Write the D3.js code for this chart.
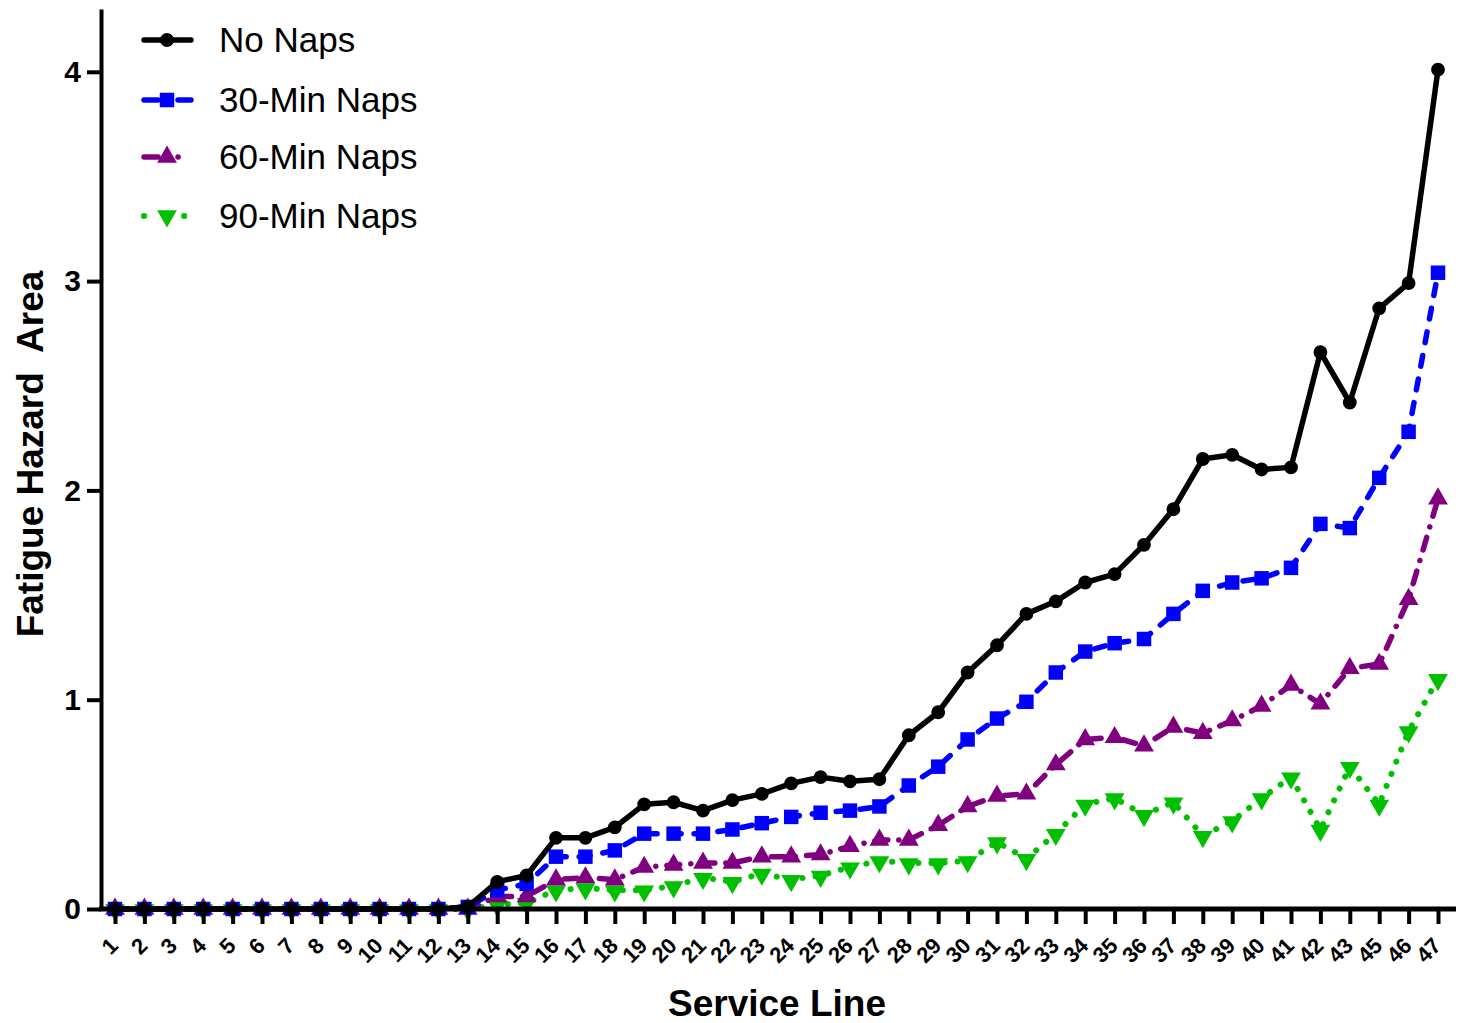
<!DOCTYPE html>
<html>
<head>
<meta charset="utf-8">
<script src="https://cdn.jsdelivr.net/npm/d3@7"></script>
<style>
  body { margin: 0; background: #fff; }
  svg { display: block; font-family: "Liberation Sans", Arial, sans-serif; }
</style>
</head>
<body>
<div id="chart"></div>
<script>
// categories (service line 44 is absent in the source)
const service_lines = ["1","2","3","4","5","6","7","8","9","10","11","12","13","14","15","16","17","18","19","20",
  "21","22","23","24","25","26","27","28","29","30","31","32","33","34","35","36","37","38","39","40",
  "41","42","43","45","46","47"]

const no_naps = [0,0,0,0,0,0,0,0,0,0,0,0,0.01,0.13,0.16,0.34,0.34,0.39,0.50,0.51,
  0.47,0.52,0.55,0.60,0.63,0.61,0.62,0.83,0.94,1.13,1.26,1.41,1.47,1.56,1.60,1.74,1.91,2.15,2.17,2.10,
  2.11,2.66,2.42,2.87,2.99,4.01]
const naps_30 = [0,0,0,0,0,0,0,0,0,0,0,0,0.01,0.09,0.12,0.25,0.25,0.28,0.36,0.36,
  0.36,0.38,0.41,0.44,0.46,0.47,0.49,0.59,0.68,0.81,0.91,0.99,1.13,1.23,1.27,1.29,1.41,1.52,1.56,1.58,
  1.63,1.84,1.82,2.06,2.28,3.04]
const naps_60 = [0,0,0,0,0,0,0,0,0,0,0,0,0,0.06,0.06,0.14,0.15,0.14,0.20,0.21,
  0.22,0.22,0.25,0.25,0.26,0.30,0.33,0.33,0.40,0.49,0.54,0.55,0.69,0.81,0.82,0.78,0.87,0.84,0.90,0.97,
  1.07,0.98,1.15,1.17,1.48,1.96]
const naps_90 = [0,0,0,0,0,0,0,0,0,0,0,0,0,0.02,0.03,0.09,0.10,0.09,0.09,0.11,
  0.15,0.13,0.17,0.14,0.16,0.20,0.23,0.22,0.22,0.23,0.32,0.24,0.36,0.50,0.53,0.45,0.51,0.35,0.42,0.53,
  0.63,0.38,0.68,0.50,0.85,1.10]

const y_ticks = [0, 1, 2, 3, 4]

const series = [
  {name: "No Naps", values: no_naps, color: "#000000", dash: null, marker: "circle"},
  {name: "30-Min Naps", values: naps_30, color: "#0000ff", dash: "11,13", marker: "square"},
  {name: "60-Min Naps", values: naps_60, color: "#800080", dash: "13,11,0.1,11", marker: "triangle"},
  {name: "90-Min Naps", values: naps_90, color: "#00c000", dash: "0.1,13", marker: "triangleDown"}
]

const width = 1466, height = 1023
const svg = d3.select("#chart").append("svg")
  .attr("width", width)
  .attr("height", height)

const x = d3.scalePoint()
  .domain(service_lines)
  .range([115, 1438])
const y = d3.scaleLinear()
  .domain([0, 4.3])
  .range([909, 9])

function symbol_for(m) {
  if (m === "circle") return d3.symbol().type(d3.symbolCircle).size(150)
  if (m === "square") return d3.symbol().type(d3.symbolSquare).size(210)
  return d3.symbol().type(d3.symbolTriangle).size(170)
}

// lines, drawn back to front
for (let i = series.length - 1; i >= 0; i--) {
  const s = series[i]
  const pts = service_lines.map((c, k) => ({c: c, v: s.values[k]}))
  const path = svg.append("path")
    .datum(pts)
    .attr("fill", "none")
    .attr("stroke", s.color)
    .attr("stroke-width", i === 3 ? 6 : 5.5)
    .attr("stroke-linecap", "round")
    .attr("stroke-linejoin", "round")
    .attr("d", d3.line().x(d => x(d.c)).y(d => y(d.v)))
  if (s.dash) path.attr("stroke-dasharray", s.dash)

  svg.selectAll(".mk" + i)
    .data(pts)
    .enter()
    .append("path")
    .attr("class", "mk" + i)
    .attr("fill", s.color)
    .attr("d", symbol_for(s.marker))
    .attr("transform", d => "translate(" + x(d.c) + "," + (y(d.v) + (s.marker === "triangleDown" ? 1 : 0)) + ")" +
      (s.marker === "triangleDown" ? " rotate(180)" : ""))
}

// y axis
const yAxis = svg.append("g")
  .attr("transform", "translate(101,0)")
  .call(d3.axisLeft(y)
    .tickValues(y_ticks)
    .tickSizeInner(14)
    .tickSizeOuter(0)
    .tickPadding(6)
    .tickFormat(d3.format("d")))
yAxis.select(".domain").attr("stroke", "#000").attr("stroke-width", 4)
yAxis.selectAll(".tick line").attr("stroke", "#000").attr("stroke-width", 4)
yAxis.selectAll(".tick text")
  .attr("fill", "#000")
  .style("font-size", "30px")
  .style("font-weight", "bold")

// x axis
const xAxis = svg.append("g")
  .attr("transform", "translate(0,909)")
  .call(d3.axisBottom(x)
    .tickSizeInner(15)
    .tickSizeOuter(0))
xAxis.select(".domain").attr("stroke", "#000").attr("stroke-width", 5)
  .attr("d", "M99,0H1456")
xAxis.selectAll(".tick line").attr("stroke", "#000").attr("stroke-width", 4)
xAxis.selectAll(".tick text")
  .attr("fill", "#000")
  .attr("text-anchor", "end")
  .attr("dy", null)
  .attr("y", 0)
  .attr("transform", "translate(4,38) rotate(-45)")
  .style("font-size", "22px")
  .style("font-weight", "bold")

// axis titles
svg.append("text")
  .attr("x", 777)
  .attr("y", 1016)
  .attr("text-anchor", "middle")
  .style("font-size", "37px")
  .style("font-weight", "bold")
  .text("Service Line")

svg.append("text")
  .attr("transform", "translate(43,454) rotate(-90)")
  .attr("text-anchor", "middle")
  .style("font-size", "37px")
  .style("font-weight", "bold")
  .style("white-space", "pre")
  .attr("xml:space", "preserve")
  .text("Fatigue Hazard  Area")

// legend
const legend_y = [40, 100, 157, 216]
series.forEach((s, i) => {
  const g = svg.append("g").attr("transform", "translate(0," + legend_y[i] + ")")
  const ln = g.append("line")
    .attr("x1", 144).attr("x2", 191)
    .attr("stroke", s.color)
    .attr("stroke-width", i === 3 ? 6 : 5.5)
    .attr("stroke-linecap", "round")
  if (i === 1) ln.attr("stroke-dasharray", "14,20")
  if (i === 2) ln.attr("stroke-dasharray", "14,20,0.1,20")
  if (i === 3) ln.attr("stroke-dasharray", "0.1,40")
  g.append("path")
    .attr("fill", s.color)
    .attr("d", symbol_for(s.marker))
    .attr("transform", "translate(167,0)" + (s.marker === "triangleDown" ? " rotate(180)" : ""))
  g.append("text")
    .attr("x", 219)
    .attr("y", 12)
    .style("font-size", "35px")
    .text(s.name)
})
</script>
</body>
</html>
